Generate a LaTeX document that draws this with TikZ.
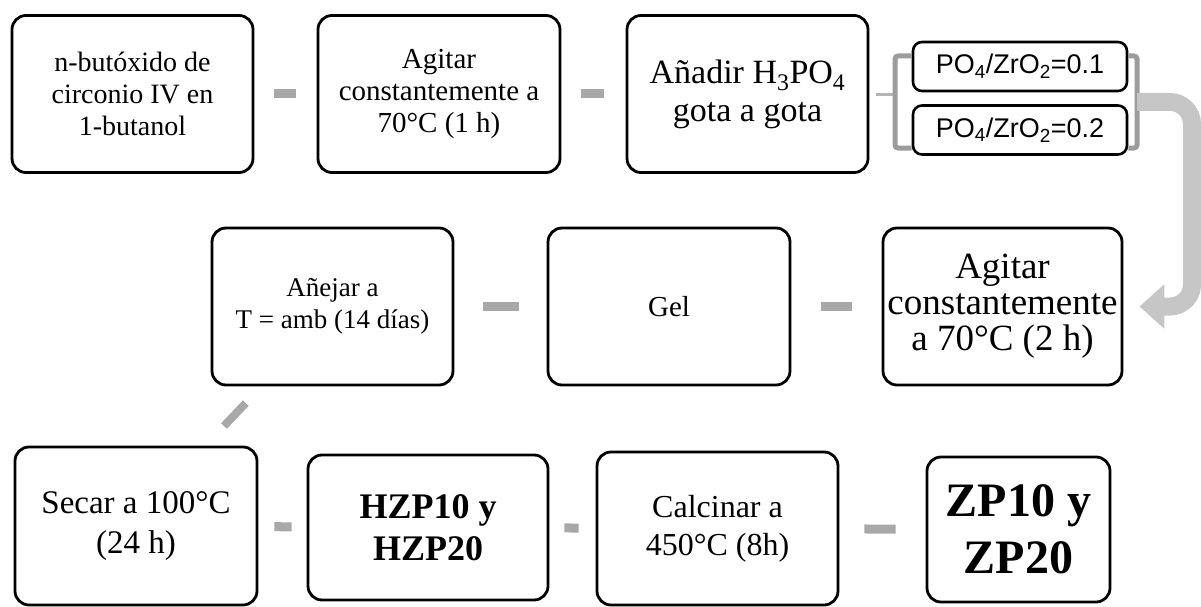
\documentclass[tikz,border=0pt]{standalone}
\usepackage{fontspec}
\setmainfont{Liberation Serif}
\newfontfamily\arialfont{Liberation Sans}
\usetikzlibrary{arrows.meta,positioning,calc}

\definecolor{linkgray}{HTML}{A8A8A8}
\definecolor{bracegray}{HTML}{9C9C9C}
\definecolor{flowgray}{HTML}{C6C6C6}

\newcommand{\fs}[2]{\fontsize{#1pt}{#2pt}\selectfont}

\begin{document}
\begin{tikzpicture}[x=1pt, y=-1pt, >=Latex]
\tikzset{
box/.style      = {draw, line width=2.8pt, rounded corners=14pt, align=center, inner sep=0pt,
                   minimum width=241pt, minimum height=157pt},
ratio/.style    = {draw, line width=2.6pt, rounded corners=9pt, align=center, inner sep=0pt,
                   minimum width=214pt, minimum height=49pt, font=\arialfont\fs{27}{30}},
link/.style     = {draw=linkgray, line width=9pt},
brace/.style    = {draw=bracegray, line width=5pt, rounded corners=3pt},
flow/.style     = {draw=flowgray, line width=18pt, rounded corners=22pt,
                   -{Triangle[length=25pt, width=43pt]}},
}
\useasboundingbox (0,0) rectangle (1201,607);

    % First row
    \node [box, font=\fs{28}{32}]   (butox)    at (132.5,94)  {n-butóxido de\\circonio IV en\\1-butanol};
    \node [box, font=\fs{29}{32}, minimum width=242pt] (agit1) at (439,94) {Agitar\\constantemente a\\70°C (1 h)};
    \node [box, font=\fs{34}{38}]   (acid)     at (747.5,94)  {Añadir H\textsubscript{3}PO\textsubscript{4}\\gota a gota};
    \node [ratio]                   (ratio1)   at (1020,66.5) {PO\textsubscript{4}/ZrO\textsubscript{2}=0.1};
    \node [ratio]                   (ratio2)   at (1020,130)  {PO\textsubscript{4}/ZrO\textsubscript{2}=0.2};

    % First row edges
    \draw [link, shorten <=20pt, shorten >=21pt] (butox) -- (agit1);
    \draw [link, shorten <=20pt, shorten >=22pt] (agit1) -- (acid);
    \coordinate (braceL) at (895,95);
    \coordinate (braceR) at (1137,102);
    \draw [draw=linkgray!85, line width=3pt, shorten <=7pt] (acid.east |- braceL) -- (braceL);
    \draw [brace] (ratio1.west |- 0,56) -| (895,148) -- (ratio2.west |- 0,148);
    \draw [brace] (ratio1.east |- 0,56) -| (1137,148) -- (ratio2.east |- 0,148);

    % Second row
    \node [box, font=\fs{37}{36}, minimum width=239pt] (agit2) at (1002.5,306.5) {Agitar\\constantemente\\a 70°C (2 h)};
    \node [box, font=\fs{29}{32}, minimum width=242pt] (gel)   at (669,306.5)    {Gel};
    \node [box, font=\fs{27}{32}]   (aging)    at (332.5,306.5) {Añejar a\\T = amb (14 días)};

    % Bent arrow down to the second row
    \draw [flow] (braceR) -- ++(55,0) |- ([xshift=16pt]agit2.east);

    % Second row edges
    \draw [link, shorten <=30pt, shorten >=30pt] (agit2) -- (gel);
    \draw [link, shorten <=28pt, shorten >=29pt] (gel) -- (aging);

    % Third row
    \node [box, font=\fs{33}{40}, minimum width=242pt, minimum height=158pt] (dry) at (136,526) {Secar a 100°C\\(24 h)};
    \node [box, font=\bfseries\fs{36}{42}, minimum width=240pt, minimum height=145pt] (hzp) at (428,527.5) {HZP10 y\\HZP20};
    \node [box, font=\fs{32}{38}, minimum height=153pt] (calc) at (717.5,528.5) {Calcinar a\\450°C (8h)};
    \node [box, font=\bfseries\fs{48}{57}, minimum width=183pt, minimum height=145pt] (zp) at (1018.5,529.5) {ZP10 y\\ZP20};

    % Third row edges
    \draw [link, line width=8pt, shorten <=23pt, shorten >=27pt]
        ([xshift=51pt]aging.south west) -- ([xshift=-53pt]dry.north east);
    \draw [link, shorten <=16pt, shorten >=15pt] (dry) -- (hzp);
    \draw [link, shorten <=15pt, shorten >=17pt] (hzp) -- (calc);
    \draw [link, shorten <=25pt, shorten >=30pt] (calc) -- (zp);

\end{tikzpicture}
\end{document}
